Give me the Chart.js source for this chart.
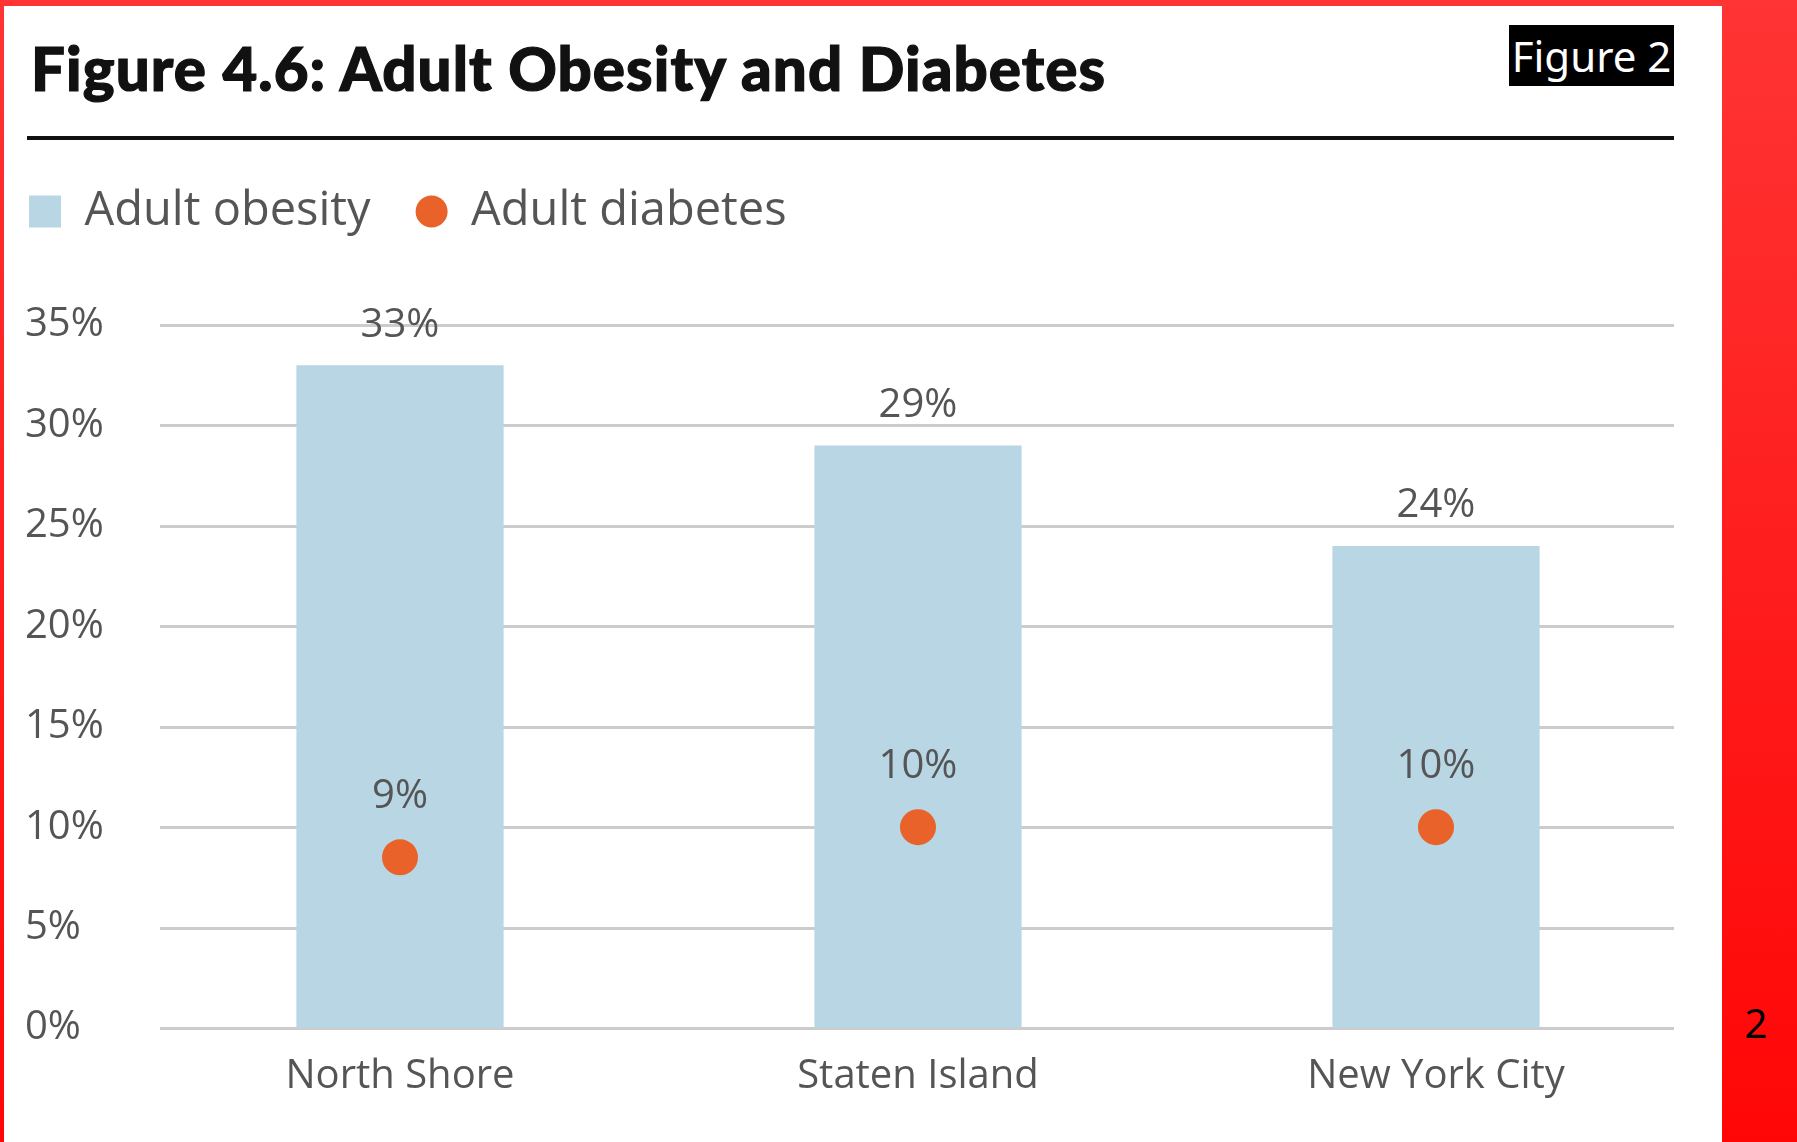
<!DOCTYPE html>
<html>
<head>
<meta charset="utf-8">
<script src="https://cdn.jsdelivr.net/npm/chart.js@4.4.1/dist/chart.umd.min.js"></script>
<style>
  html, body { margin: 0; padding: 0; }
  body { width: 1797px; height: 1142px; overflow: hidden; position: relative;
         background: linear-gradient(to bottom, #ff3434, #ff0606); }
  #panel { position: absolute; left: 4px; top: 6px; width: 1718px; height: 1136px; background: #fff; }
  #title { position: absolute; left: 31px; top: 38px; font-family: "Lato", sans-serif; font-weight: 900;
           font-size: 60px; line-height: 60px; letter-spacing: 1.1px; color: #111; white-space: nowrap;
           -webkit-text-stroke: 1.2px #111; }
  #rule { position: absolute; left: 27px; top: 136px; width: 1647px; height: 4px; background: #111; }
  #fig2 { position: absolute; left: 1509px; top: 25px; width: 165px; height: 61px; background: #000; color: #fff;
          font-family: "Noto Sans", sans-serif; font-size: 42px; line-height: 61px; text-align: center; white-space: nowrap; }
  #pg { position: absolute; left: 1736px; top: 998px; width: 40px; text-align: center;
        font-family: "Noto Sans", sans-serif; font-size: 40px; line-height: 50px; color: #000; }
  #wrap { position: absolute; left: 0; top: 150px; width: 1722px; height: 992px; }
</style>
</head>
<body>
<div id="panel"></div>
<div id="title">Figure 4.6: Adult Obesity and Diabetes</div>
<div id="rule"></div>
<div id="fig2">Figure 2</div>
<div id="pg">2</div>
<div id="wrap"><canvas id="c" width="1722" height="992"></canvas></div>
<script>
const categories = ['North Shore', 'Staten Island', 'New York City'];
const seriesNames = ['Adult obesity', 'Adult diabetes'];
const obesity = [33, 29, 24];
const diabetes = [8.5, 10, 10];
const yTicks = [0, 5, 10, 15, 20, 25, 30, 35];

const FONT = '"Open Sans", sans-serif';
const TEXT = '#555555';

const gridPlugin = {
  id: 'customGrid',
  beforeDatasetsDraw(chart) {
    const y = chart.scales.y, a = chart.chartArea, ctx = chart.ctx;
    ctx.save();
    ctx.strokeStyle = '#cccccc';
    ctx.lineWidth = 3;
    y.ticks.forEach(t => {
      const py = Math.round(y.getPixelForValue(t.value)) + 0.5;
      ctx.beginPath();
      ctx.moveTo(a.left + 19, py);
      ctx.lineTo(a.right - 21, py);
      ctx.stroke();
    });
    ctx.restore();
  }
};

const labelPlugin = {
  id: 'valueLabels',
  afterDatasetsDraw(chart) {
    const ctx = chart.ctx;
    ctx.save();
    ctx.font = '500 40px ' + FONT;
    ctx.fillStyle = TEXT;
    ctx.textAlign = 'center';
    ctx.textBaseline = 'middle';
    const offsets = [40, 61];
    chart.data.datasets.forEach((ds, di) => {
      chart.getDatasetMeta(di).data.forEach((el, i) => {
        ctx.fillText(Math.round(ds.data[i]) + '%', el.x, el.y - offsets[di]);
      });
    });
    ctx.restore();
  }
};

const legendShift = {
  id: 'legendShift',
  afterLayout(chart) {
    const lg = chart.legend;
    if (!lg) return;
    lg.left -= 41; lg.right -= 41;
    lg.top -= 80; lg.bottom -= 80;
  }
};

new Chart(document.getElementById('c'), {
  type: 'bar',
  data: {
    labels: categories,
    datasets: [
      {
        type: 'bar',
        label: seriesNames[0],
        data: obesity,
        backgroundColor: '#b8d6e4',
        borderWidth: 0,
        categoryPercentage: 1,
        barPercentage: 0.4,
        order: 2
      },
      {
        type: 'line',
        label: seriesNames[1],
        data: diabetes,
        showLine: false,
        backgroundColor: '#e8622a',
        borderColor: '#e8622a',
        pointBackgroundColor: '#e8622a',
        pointBorderWidth: 0,
        pointRadius: 18,
        pointHoverRadius: 18,
        order: 1
      }
    ]
  },
  options: {
    responsive: false,
    animation: false,
    devicePixelRatio: 1,
    layout: { padding: { left: 25, right: 27, top: 73, bottom: 0 } },
    plugins: {
      tooltip: { enabled: false },
      legend: {
        position: 'top',
        align: 'start',
        labels: {
          font: { family: FONT, size: 47 },
          color: TEXT,
          boxWidth: 32,
          boxHeight: 32,
          padding: 45,
          useBorderRadius: true,
          generateLabels(chart) {
            const items = Chart.defaults.plugins.legend.labels.generateLabels(chart);
            items.sort((a, b) => a.datasetIndex - b.datasetIndex);
            items.forEach(it => {
              it.lineWidth = 0;
              it.strokeStyle = 'rgba(0,0,0,0)';
              it.borderRadius = it.datasetIndex === 1 ? 16 : 0;
            });
            return items;
          }
        }
      }
    },
    scales: {
      x: {
        grid: { display: false, drawTicks: false },
        border: { display: false },
        ticks: { font: { family: FONT, size: 40, weight: 500 }, color: TEXT, padding: 25 },
        afterFit(s) { s.height = 114; }
      },
      y: {
        min: yTicks[0],
        max: yTicks[yTicks.length - 1],
        grid: { display: false, drawTicks: false },
        border: { display: false },
        afterBuildTicks(s) { s.ticks = yTicks.map(v => ({ value: v })); },
        ticks: {
          font: { family: FONT, size: 40, weight: 500 },
          color: TEXT,
          crossAlign: 'far',
          callback: v => v + '%'
        },
        afterFit(s) { s.width = 116; }
      }
    }
  },
  plugins: [gridPlugin, labelPlugin, legendShift]
});
</script>
</body>
</html>
